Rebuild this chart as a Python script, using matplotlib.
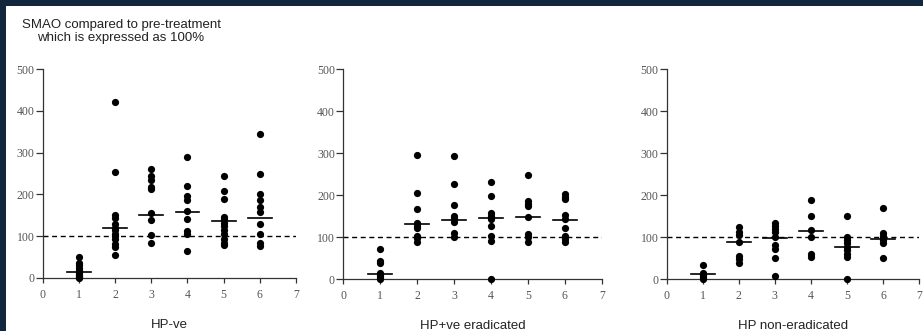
import matplotlib.pyplot as plt
from matplotlib.patches import Rectangle

# SMAO as % of pre-treatment value, per visit (1-6), one list per patient group
visits = [1, 2, 3, 4, 5, 6]

hp_neg = [
    [50, 35, 30, 25, 20, 15, 12, 8, 5, 2, 0],
    [420, 253, 150, 143, 128, 120, 115, 106, 100, 93, 82, 74, 55],
    [260, 245, 235, 218, 212, 155, 138, 104, 84],
    [289, 219, 195, 186, 160, 141, 113, 106, 64],
    [243, 209, 188, 146, 140, 132, 124, 115, 105, 94, 84, 80],
    [344, 249, 202, 186, 170, 158, 129, 106, 84, 77],
]
hp_neg_med = [15, 120, 150, 157, 136, 144]

hp_erad = [
    [72, 43, 39, 14, 10, 5, 0],
    [296, 205, 166, 134, 126, 121, 103, 97, 88],
    [294, 227, 177, 151, 145, 136, 110, 101],
    [231, 198, 158, 150, 142, 126, 102, 91, 0],
    [248, 187, 180, 173, 148, 107, 100, 89],
    [203, 196, 190, 153, 143, 122, 103, 96, 89],
]
hp_erad_med = [13, 130, 141, 145, 148, 141]

hp_non = [
    [33, 14, 10, 5, 0],
    [125, 113, 105, 89, 55, 47, 37],
    [134, 126, 119, 111, 99, 81, 71, 51, 6],
    [188, 150, 117, 100, 60, 53],
    [151, 101, 93, 85, 77, 68, 60, 52, 0],
    [170, 109, 103, 98, 94, 87, 49],
]
hp_non_med = [12, 88, 97, 115, 77, 95]

groups = ["HP-ve", "HP+ve eradicated", "HP non-eradicated"]
panels = [(hp_neg, hp_neg_med), (hp_erad, hp_erad_med), (hp_non, hp_non_med)]

W, H = 923, 331
fig = plt.figure(figsize=(W / 100, H / 100), dpi=100, facecolor="#12263e")
fig.patches.append(Rectangle((6 / W, 0), 1, 1 - 6 / H, transform=fig.transFigure,
                             facecolor="white", edgecolor="none", zorder=-5))

# axes boxes in pixels: left, right(x=7), top(y=500), bottom(y=0)
boxes = [(42.7, 296.0, 69.0, 278.0),
         (343.3, 601.7, 69.3, 279.0),
         (666.7, 919.0, 69.3, 279.0)]

serif = "Liberation Serif"
for (vals, med), name, (l, r, t, b) in zip(panels, groups, boxes):
    ax = fig.add_axes([l / W, 1 - b / H, (r - l) / W, (b - t) / H])
    ax.set_facecolor("none")
    for x, ys, m in zip(visits, vals, med):
        ax.plot([x] * len(ys), ys, "o", color="black", ms=5.2, mec="none",
                clip_on=False, zorder=3)
        ax.plot([x - 0.33, x + 0.33], [m, m], color="black", lw=1.2, zorder=4)
    ax.plot([0, 7], [100, 100], color="black", lw=1.0, dashes=(3.6, 2.6), zorder=2)
    ax.set_xlim(0, 7)
    ax.set_ylim(0, 500)
    ax.set_xticks(range(8))
    ax.set_yticks(range(0, 501, 100))
    for s in ["top", "right"]:
        ax.spines[s].set_visible(False)
    for s in ["left", "bottom"]:
        ax.spines[s].set_color("#333333")
        ax.spines[s].set_linewidth(0.9)
    ax.tick_params(direction="out", width=0.9, color="#333333",
                   labelsize=8.5, labelcolor="#555555")
    ax.tick_params(axis="y", length=5, pad=1)
    ax.tick_params(axis="x", length=3.6, pad=4)
    for lab in ax.get_xticklabels() + ax.get_yticklabels():
        lab.set_family(serif)
    ax.text(0.5, -0.225, name, transform=ax.transAxes, ha="center", va="center",
            fontsize=9.5, family="Liberation Sans", color="#222222")

fig.text(121 / W, 1 - 31.5 / H,
         "SMAO compared to pre-treatment\nwhich is expressed as 100%",
         ha="center", va="center", fontsize=9.5, family="Liberation Sans",
         color="#222222", linespacing=1.2)

fig.savefig("out.png", dpi=100, facecolor=fig.get_facecolor())
